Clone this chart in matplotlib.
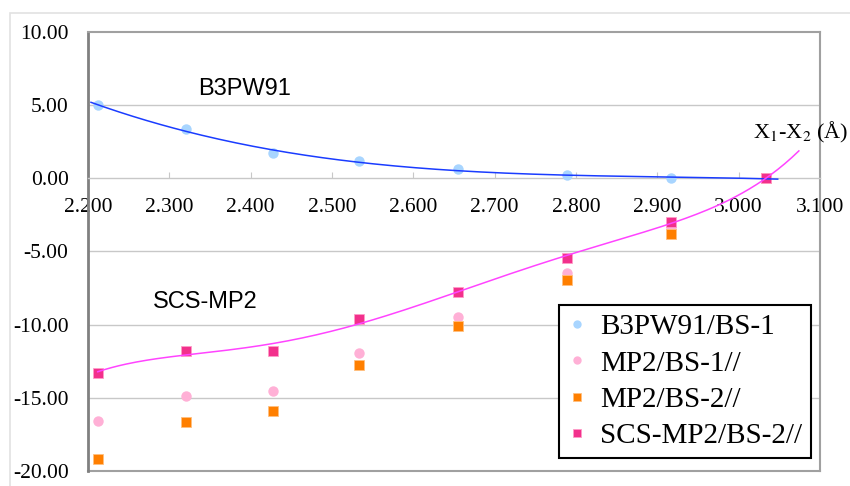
import matplotlib
matplotlib.use("Agg")
import matplotlib.pyplot as plt
import numpy as np
from matplotlib.patches import Rectangle

# distances X1-X2 (A) and relative energies
dist = [2.212, 2.320, 2.427, 2.533, 2.655, 2.789, 2.917, 3.034]
b3pw91_bs1 = [5.00, 3.37, 1.71, 1.16, 0.62, 0.20, 0.02, 0.00]
mp2_bs1 = [-16.60, -14.88, -14.50, -11.95, -9.45, -6.46, -3.40, 0.00]
mp2_bs2 = [-19.20, -16.65, -15.92, -12.76, -10.08, -6.94, -3.77, 0.00]
scs_mp2_bs2 = [-13.27, -11.80, -11.80, -9.58, -7.74, -5.44, -2.96, 0.00]

xticks = [2.2, 2.3, 2.4, 2.5, 2.6, 2.7, 2.8, 2.9, 3.0, 3.1]
yticks = [-20, -15, -10, -5, 0, 5, 10]

plt.rcParams['mathtext.fontset'] = 'stix'
serif = 'Liberation Serif'
sans = 'Liberation Sans'

fig = plt.figure(figsize=(8.5, 4.86), dpi=100)
ax = fig.add_axes([88/850, 15/486, 732/850, 439/486])

# outer frame of the chart
fig.patches.append(Rectangle((10/850, -0.1), 1.0, (486-13)/486 + 0.1, transform=fig.transFigure,
                             fill=False, edgecolor='#e2e2e2', linewidth=1.2))

# axis lines first (set_position resets the tick labels)
ax.spines['bottom'].set_position(('data', 0))
ax.spines['bottom'].set_color('#c8c8c8')
ax.spines['bottom'].set_linewidth(1)
ax.spines['left'].set_color('#808080')
ax.spines['left'].set_linewidth(2)
ax.spines['top'].set_color('#a0a0a0')
ax.spines['top'].set_linewidth(1.5)
ax.spines['right'].set_color('#a0a0a0')
ax.spines['right'].set_linewidth(1.5)

for yy in [5, -5, -10, -15]:
    ax.axhline(yy, color='#c8c8c8', linewidth=1, zorder=0)
# bottom edge of plot area
ax.axhline(-20, color='#a0a0a0', linewidth=1.5, zorder=1, clip_on=False)

ax.plot(dist, b3pw91_bs1, 'o', color='#a8d5ff', markersize=7.5, markeredgewidth=0, label='B3PW91/BS-1', zorder=3)
ax.plot(dist, mp2_bs1, 'o', color='#ffb0d6', markersize=7.5, markeredgewidth=0, label='MP2/BS-1//', zorder=3)
ax.plot(dist, mp2_bs2, 's', color='#ff7f00', markersize=7.5, markeredgecolor='#ffc080', markeredgewidth=0.6, label='MP2/BS-2//', zorder=3)
ax.plot(dist, scs_mp2_bs2, 's', color='#f2308c', markersize=7.8, markeredgecolor='#ff9cc8', markeredgewidth=0.6, label='SCS-MP2/BS-2//', zorder=3)

# trendlines
c1 = np.polyfit(dist, b3pw91_bs1, 3)
xx1 = np.linspace(2.2037, 3.048, 200)
ax.plot(xx1, np.polyval(c1, xx1), color='#1a3cff', linewidth=1.1, zorder=4)
c2 = np.polyfit(dist, scs_mp2_bs2, 5)
xx2 = np.linspace(dist[0], 3.074, 200)
ax.plot(xx2, np.polyval(c2, xx2), color='#ff44ff', linewidth=1.1, zorder=4)

ax.set_xlim(2.2, 3.1)
ax.set_ylim(-20, 10)
ax.set_xticks(xticks)
ax.set_yticks(yticks)
ax.set_xticklabels(['%.3f' % t for t in xticks], fontfamily=serif, fontsize=15.5)
ax.set_yticklabels(['%.2f' % t for t in yticks], fontfamily=serif, fontsize=15.5)

ax.tick_params(axis='x', direction='in', length=4.5, color='#c8c8c8', pad=14)
ax.tick_params(axis='y', length=0, pad=14)

ax.text(2.393, 6.1, 'B3PW91', fontfamily=sans, fontsize=17, ha='center', va='center')
ax.text(2.344, -8.45, 'SCS-MP2', fontfamily=sans, fontsize=17, ha='center', va='center')
ax.text(3.135, 2.25, r'X$_1$-X$_2$ (Å)', fontfamily=serif, fontsize=16, ha='right', va='bottom')

leg = ax.legend(loc='lower right', bbox_to_anchor=(0.9877, 0.0296), prop={'family': serif, 'size': 21},
                frameon=True, fancybox=False, framealpha=1, edgecolor='black', handlelength=0.6,
                handletextpad=0.5, borderpad=0.3, labelspacing=0.34, markerscale=0.8, borderaxespad=0)
leg.get_frame().set_linewidth(1.5)

plt.savefig("out.png", dpi=100)
